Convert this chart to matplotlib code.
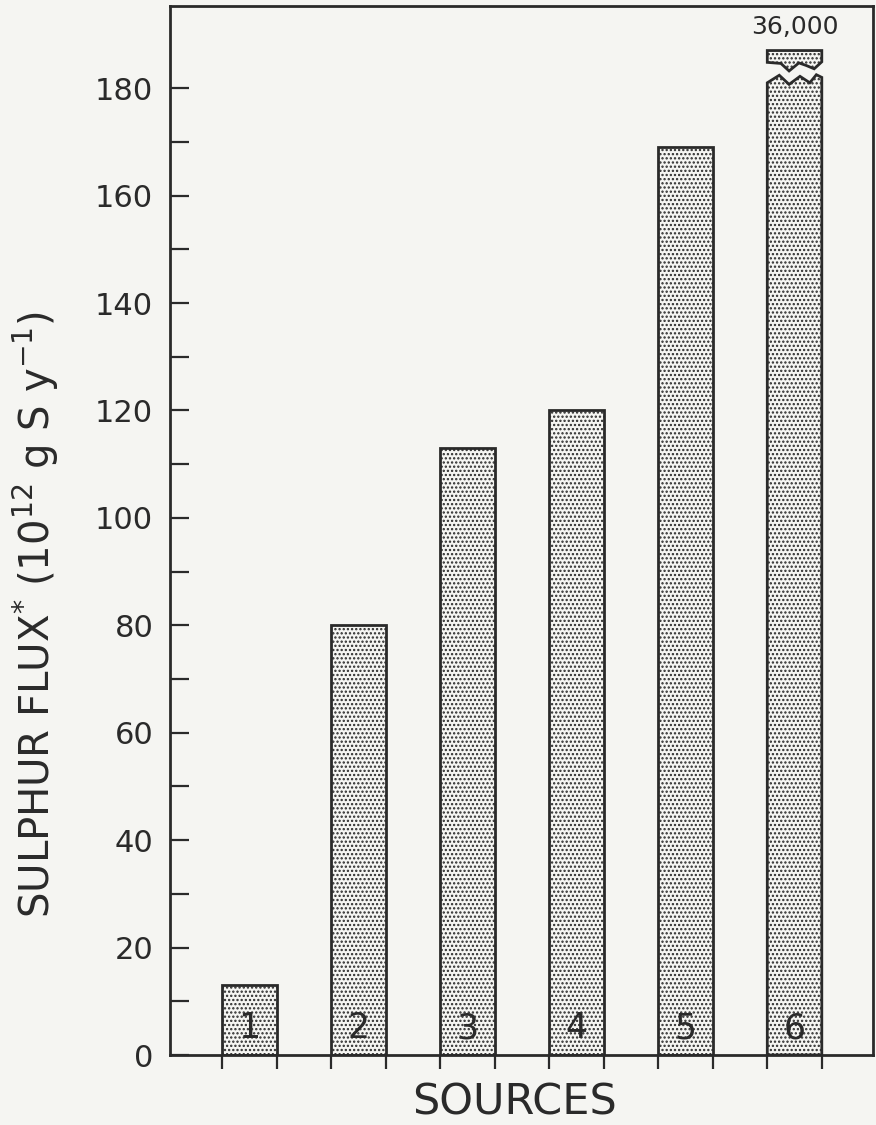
import numpy as np
import matplotlib.pyplot as plt

# ---- data ----
sources = [1, 2, 3, 4, 5, 6]
flux = [13, 80, 113, 120, 169, 36000]
bar_labels = ["1", "2", "3", "4", "5", "6"]
big_label = "36,000"

# axis break for source 6
break_lo = 181.0    # top of lower piece
break_hi = 184.0    # bottom of the cap piece
cap_top = 187.0

bg = "#f5f5f2"
ink = "#2a2a2a"
width = 0.5

plt.rcParams["font.family"] = "DejaVu Sans"
plt.rcParams["hatch.linewidth"] = 1.1
plt.rcParams["hatch.color"] = "#555555"

fig = plt.figure(figsize=(8.76, 11.25), dpi=100, facecolor=bg)
ax = fig.add_axes([0.194, 0.0622, 0.8026, 0.9325])
ax.set_facecolor(bg)

# ---- normal bars ----
for s, v in zip(sources, flux):
    if v < break_lo:
        ax.bar(s, v, width=width, color=bg, edgecolor=ink, linewidth=2.0,
               hatch="....", zorder=2)

# ---- broken bar (source 6) ----
s6 = sources[-1]
x0, x1 = s6 - width / 2, s6 + width / 2
# zig-zag profile of the tear, (fraction of width, offset)
lower_zig = [(0.0, 0.0), (0.22, 1.4), (0.4, -0.3), (0.6, 1.2), (0.78, 0.0), (0.9, 1.5), (1.0, 1.0)]
upper_zig = [(0.0, 0.8), (0.25, 0.6), (0.4, -0.8), (0.58, 0.7), (0.72, 0.2), (0.86, -0.4), (1.0, 0.9)]

xs = [x0] + [x0 + f * width for f, _ in lower_zig] + [x1]
ys = [0] + [break_lo + d for _, d in lower_zig] + [0]
ax.fill(xs, ys, facecolor=bg, edgecolor=ink, linewidth=2.0, hatch="....", zorder=2)

xs = [x0 + f * width for f, _ in upper_zig] + [x1, x0]
ys = [break_hi + d for _, d in upper_zig] + [cap_top, cap_top]
ax.fill(xs, ys, facecolor=bg, edgecolor=ink, linewidth=2.0, hatch="....", zorder=2)

ax.text(s6, cap_top + 4.3, big_label, ha="center", va="center", fontsize=18, color=ink)

# source numbers inside the bars
for s, lab in zip(sources, bar_labels):
    ax.text(s, 5.0, lab, ha="center", va="center", fontsize=25, color=ink, zorder=3)

# ---- axes ----
ax.set_xlim(0.27, 6.72)
ax.set_ylim(0, 195.3)

ax.set_yticks(np.arange(0, 181, 20))
ax.set_yticks(np.arange(10, 171, 20), minor=True)
ax.tick_params(axis="y", which="both", direction="in", length=14, width=1.6,
               colors=ink, labelsize=22, pad=12, right=False)

edges = []
for s in sources:
    edges += [s - width / 2, s + width / 2]
ax.set_xticks(edges)
ax.set_xticklabels([])
ax.tick_params(axis="x", direction="out", length=10, width=1.6, colors=ink)

for sp in ax.spines.values():
    sp.set_linewidth(2.0)
    sp.set_color(ink)

ax.set_ylabel(r"SULPHUR FLUX$^{*}$ (10$^{12}$ g S y$^{-1}$)", fontsize=29,
              color=ink, va="center")
ax.yaxis.set_label_coords(-0.19, 0.42)
ax.set_xlabel("SOURCES", fontsize=31, color=ink, va="center")
ax.xaxis.set_label_coords(0.49, -0.045)

plt.savefig("out.png", dpi=100, facecolor=bg)
